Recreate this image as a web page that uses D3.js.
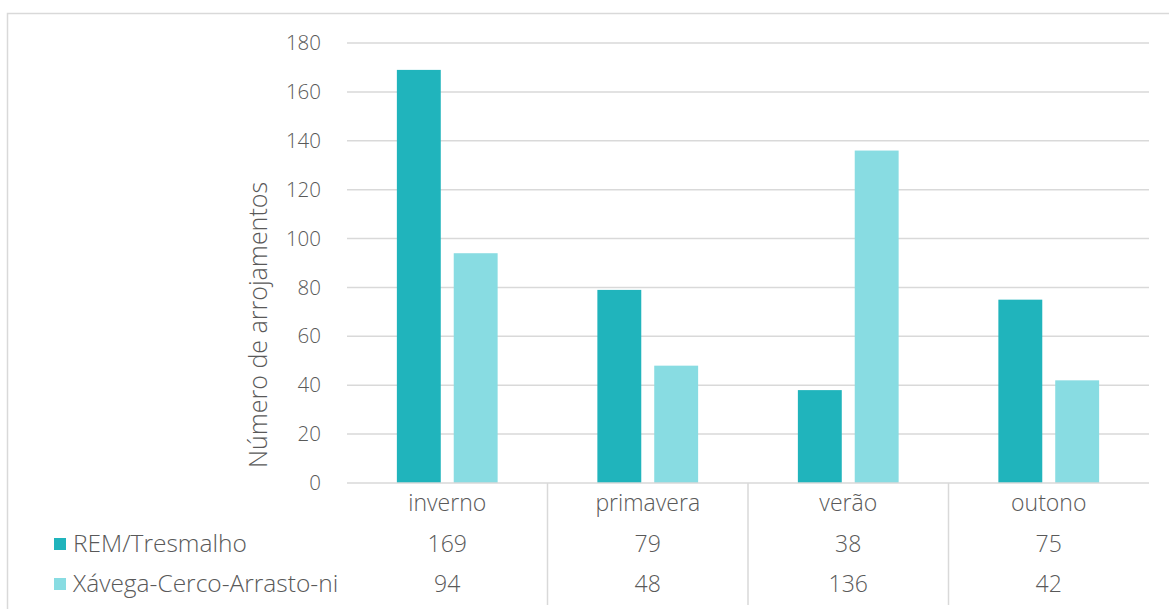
<!DOCTYPE html>
<html><head><meta charset="utf-8">
<script src="https://cdn.jsdelivr.net/npm/d3@7"></script>
<style>body{margin:0;background:#fff;} text{font-family:"Open Sans",sans-serif;fill:#595959;font-weight:300;}</style>
</head><body><svg id="c" width="1169" height="609"></svg>
<script>
const categories = ["inverno", "primavera", "verão", "outono"];
const seriesNames = ["REM/Tresmalho", "Xávega-Cerco-Arrasto-ni"];
const remValues = [169, 79, 38, 75];
const xavegaValues = [94, 48, 136, 42];
const yTicks = [0, 20, 40, 60, 80, 100, 120, 140, 160, 180];
const colors = ["#20B4BC", "#88DCE2"];
const yTitle = "Número de arrojamentos";

const svg = d3.select("#c");
const L = 347, R = 1149, T = 43, B = 483;
// outer border
svg.append("rect").attr("x",7.5).attr("y",13.5).attr("width",1170).attr("height",620)
  .attr("fill","none").attr("stroke","#d9d9d9").attr("stroke-width",1.5);

const x = d3.scaleBand().domain(categories).range([L, R]).paddingInner(0).paddingOuter(0);
const x1 = d3.scaleBand().domain([0,1]).range([0, x.bandwidth()]).paddingInner(0.228).paddingOuter(0.877);
const y = d3.scaleLinear().domain([0, 180]).range([B, T]);

// gridlines
svg.append("g").selectAll("line").data(yTicks.filter(d=>d>0)).join("line")
  .attr("x1",L).attr("x2",R).attr("y1",d=>y(d)).attr("y2",d=>y(d))
  .attr("stroke","#d9d9d9").attr("stroke-width",1.5);

// y axis labels
const yAxis = d3.axisLeft(y).tickValues(yTicks).tickSize(0).tickPadding(26);
const ya = svg.append("g").attr("transform",`translate(${L},0)`).call(yAxis);
ya.select(".domain").remove();
ya.selectAll("text").style("font-size","20.5px").attr("fill","#595959")
  .style("font-family","'Open Sans',sans-serif").style("font-weight","300");

// bars
const series = [remValues, xavegaValues];
series.forEach((vals, si) => {
  svg.append("g").selectAll("rect").data(vals).join("rect")
    .attr("x",(d,i)=>x(categories[i]) + x1(si))
    .attr("width", x1.bandwidth())
    .attr("y", d=>y(d)).attr("height", d=>B - y(d))
    .attr("fill", colors[si]);
});

// x axis line
svg.append("line").attr("x1",L).attr("x2",R).attr("y1",B).attr("y2",B)
  .attr("stroke","#d9d9d9").attr("stroke-width",1.5);

// table dividers
categories.slice(1).forEach(c=>{
  svg.append("line").attr("x1",x(c)).attr("x2",x(c)).attr("y1",B).attr("y2",605)
    .attr("stroke","#d9d9d9").attr("stroke-width",1.5);
});

// category labels
svg.append("g").selectAll("text").data(categories).join("text")
  .attr("x",d=>x(d)+x.bandwidth()/2).attr("y",511).attr("text-anchor","middle")
  .style("font-size","23px").text(d=>d);

// table rows
const rowY = [552, 592];
series.forEach((vals, si)=>{
  svg.append("g").selectAll("text").data(vals).join("text")
    .attr("x",(d,i)=>x(categories[i])+x.bandwidth()/2).attr("y",rowY[si])
    .attr("text-anchor","middle").style("font-size","23px").text(d=>d);
  svg.append("rect").attr("x",54).attr("y",rowY[si]-14).attr("width",12).attr("height",12).attr("fill",colors[si]);
  svg.append("text").attr("x",73).attr("y",rowY[si]).style("font-size","24.5px").text(seriesNames[si]);
});

// y title
svg.append("text").attr("transform","translate(267,325) rotate(-90)")
  .attr("text-anchor","middle").style("font-size","25px").text(yTitle);
</script></body></html>
